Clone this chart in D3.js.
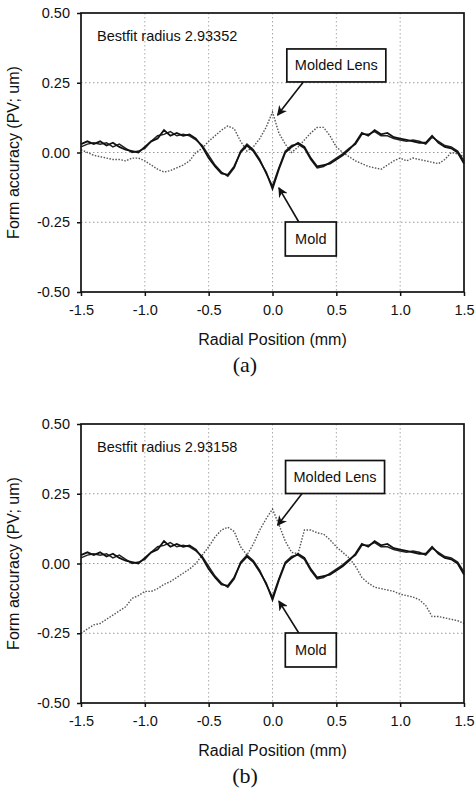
<!DOCTYPE html>
<html>
<head>
<meta charset="utf-8">
<script src="https://cdn.jsdelivr.net/npm/d3@7/dist/d3.min.js"></script>
<style>
  body { margin: 0; background: #fff; }
  svg text { font-family: Arial, "Liberation Sans", sans-serif; fill: #111; }
  .caption { font-family: "Times New Roman", "Liberation Serif", serif; }
</style>
</head>
<body>
<div id="root"></div>
<script>
"use strict";

// radial positions, 0.05 mm step
var positions = d3.range(61).map(function (i) { return -1.5 + i * 0.05; });

var xTicks = [-1.5, -1.0, -0.5, 0.0, 0.5, 1.0, 1.5];
var yTicks = [-0.50, -0.25, 0.00, 0.25, 0.50];

var moldA = [0.03, 0.04, 0.03, 0.04, 0.025, 0.035, 0.02, 0.01, 0.005, 0.0,
    0.02, 0.04, 0.05, 0.08, 0.06, 0.07, 0.06, 0.065, 0.05, 0.02,
    -0.02, -0.05, -0.075, -0.08, -0.05, 0.0, 0.025, 0.005, -0.03, -0.07,
    -0.13, -0.06, 0.0, 0.02, 0.035, 0.02, -0.02, -0.05, -0.045, -0.04,
    -0.025, -0.01, 0.01, 0.035, 0.07, 0.06, 0.08, 0.065, 0.07, 0.055,
    0.05, 0.045, 0.04, 0.035, 0.035, 0.06, 0.035, 0.02, 0.015, 0.0, -0.04];

var moldB = [0.02, 0.03, 0.035, 0.03, 0.035, 0.02, 0.03, 0.015, 0.0, 0.005,
    0.015, 0.04, 0.06, 0.065, 0.075, 0.06, 0.065, 0.06, 0.045, 0.025,
    -0.01, -0.045, -0.07, -0.085, -0.055, 0.005, 0.03, 0.01, -0.025, -0.075,
    -0.12, -0.055, 0.005, 0.025, 0.03, 0.015, -0.025, -0.055, -0.05, -0.035,
    -0.02, -0.005, 0.015, 0.03, 0.065, 0.065, 0.075, 0.06, 0.06, 0.05,
    0.045, 0.04, 0.045, 0.04, 0.03, 0.055, 0.04, 0.025, 0.02, 0.005, -0.03];

var lensA = [0.01, 0.0, -0.01, -0.015, -0.02, -0.025, -0.025, -0.03, -0.02, -0.02,
    -0.03, -0.045, -0.06, -0.07, -0.065, -0.055, -0.045, -0.03, 0.0, 0.015,
    0.04, 0.06, 0.08, 0.095, 0.085, 0.04, 0.005, 0.02, 0.05, 0.09,
    0.145, 0.07, 0.03, 0.0, 0.02, 0.045, 0.07, 0.09, 0.09, 0.06,
    0.02, 0.0, -0.015, -0.03, -0.04, -0.05, -0.055, -0.06, -0.045, -0.03,
    -0.02, -0.03, -0.02, -0.025, -0.03, -0.035, -0.04, -0.025, 0.0, -0.005, -0.015];

var lensB = [-0.25, -0.235, -0.22, -0.215, -0.2, -0.185, -0.17, -0.155, -0.125, -0.115,
    -0.1, -0.1, -0.09, -0.075, -0.065, -0.05, -0.035, -0.02, 0.0, 0.03,
    0.06, 0.095, 0.12, 0.13, 0.115, 0.06, 0.03, 0.07, 0.12, 0.16,
    0.195, 0.14, 0.08, 0.04, 0.035, 0.12, 0.12, 0.11, 0.105, 0.085,
    0.06, 0.04, 0.02, -0.01, -0.05, -0.07, -0.085, -0.09, -0.095, -0.1,
    -0.11, -0.115, -0.12, -0.13, -0.15, -0.19, -0.19, -0.195, -0.2, -0.205, -0.215];

var panels = [
    { top: 13, caption: "(a)", note: "Bestfit radius 2.93352", lens: lensA, lensTip: [0.04, 0.134], moldTip: [0.05, -0.127], lensBox: [0.50, 0.312], moldBox: [0.30, -0.31] },
    { top: 424, caption: "(b)", note: "Bestfit radius 2.93158", lens: lensB, lensTip: [0.04, 0.137], moldTip: [0.05, -0.135], lensBox: [0.49, 0.31], moldBox: [0.30, -0.31] }
];

var svg = d3.select("#root").append("svg")
    .attr("width", 475)
    .attr("height", 793);

svg.append("defs").append("marker")
    .attr("id", "head")
    .attr("viewBox", "0 0 10 10")
    .attr("refX", 9).attr("refY", 5)
    .attr("markerWidth", 10).attr("markerHeight", 10)
    .attr("markerUnits", "userSpaceOnUse")
    .attr("orient", "auto")
    .append("path")
    .attr("d", "M0,0 L10,5 L0,10 L3,5 Z")
    .attr("fill", "#111");

// plain hyphen for negatives, as in the original
function fmt(spec) {
    var f = d3.format(spec);
    return function (d) { return f(d).replace("\u2212", "-"); };
}

function drawPanel(p) {
    var left = 81, right = 464, top = p.top, bottom = p.top + 279;

    var x = d3.scaleLinear().domain([-1.5, 1.5]).range([left, right]);
    var y = d3.scaleLinear().domain([-0.5, 0.5]).range([bottom, top]);

    var g = svg.append("g").classed("panel", true);

    // dotted grid
    g.append("g").selectAll("line.hg")
        .data(yTicks.slice(1, -1))
        .enter().append("line")
        .attr("x1", left).attr("x2", right)
        .attr("y1", d => y(d)).attr("y2", d => y(d))
        .attr("stroke", "#999").attr("stroke-width", 1)
        .attr("stroke-dasharray", "1.5,2.5");
    g.append("g").selectAll("line.vg")
        .data(xTicks.slice(1, -1))
        .enter().append("line")
        .attr("y1", top).attr("y2", bottom)
        .attr("x1", d => x(d)).attr("x2", d => x(d))
        .attr("stroke", "#aaa").attr("stroke-width", 1)
        .attr("stroke-dasharray", "1.5,2.5");

    var line = d3.line()
        .x((d, i) => x(positions[i]))
        .y(d => y(d));

    g.append("path").datum(p.lens)
        .attr("d", line).attr("fill", "none")
        .attr("stroke", "#555").attr("stroke-width", 1.4)
        .attr("stroke-dasharray", "1.5,1.5");
    g.append("path").datum(moldB)
        .attr("d", line).attr("fill", "none")
        .attr("stroke", "#222").attr("stroke-width", 1.5);
    g.append("path").datum(moldA)
        .attr("d", line).attr("fill", "none")
        .attr("stroke", "#111").attr("stroke-width", 1.8);

    // frame
    g.append("rect")
        .attr("x", left).attr("y", top)
        .attr("width", right - left).attr("height", bottom - top)
        .attr("fill", "none").attr("stroke", "#111").attr("stroke-width", 1.7);

    var xAxis = g.append("g")
        .attr("transform", "translate(0," + bottom + ")")
        .call(d3.axisBottom(x).tickValues(xTicks).tickFormat(fmt(".1f")).tickSize(4).tickPadding(9));
    var yAxis = g.append("g")
        .attr("transform", "translate(" + left + ",0)")
        .call(d3.axisLeft(y).tickValues(yTicks).tickFormat(fmt(".2f")).tickSize(4).tickPadding(7));
    [xAxis, yAxis].forEach(function (a) {
        a.select(".domain").remove();
        a.selectAll("line").attr("stroke", "#111").attr("stroke-width", 1.5);
        a.selectAll("text").style("font-size", "14.5px").attr("fill", "#111");
    });

    g.append("text")
        .attr("x", (left + right) / 2).attr("y", bottom + 53)
        .attr("text-anchor", "middle").style("font-size", "16px")
        .text("Radial Position (mm)");
    g.append("text")
        .attr("transform", "translate(19," + (top + bottom) / 2 + ") rotate(-90)")
        .attr("text-anchor", "middle").style("font-size", "16px")
        .text("Form accuracy (PV; um)");
    g.append("text")
        .attr("x", 97).attr("y", top + 28)
        .style("font-size", "14.5px")
        .text(p.note);
    g.append("text").classed("caption", true)
        .attr("x", 245).attr("y", bottom + 80)
        .attr("text-anchor", "middle").style("font-size", "22px")
        .text(p.caption);

    // callouts
    [
        { label: "Molded Lens", box: p.lensBox, tip: p.lensTip, w: 99, h: 33, from: "bottom" },
        { label: "Mold", box: p.moldBox, tip: p.moldTip, w: 51, h: 34, from: "top" }
    ].forEach(function (c) {
        var cx = x(c.box[0]), cy = y(c.box[1]);
        var sx = c.from === "bottom" ? cx - 33 : cx - 12;
        var sy = c.from === "bottom" ? cy + c.h / 2 : cy - c.h / 2;
        g.append("line")
            .attr("x1", sx).attr("y1", sy)
            .attr("x2", x(c.tip[0])).attr("y2", y(c.tip[1]))
            .attr("stroke", "#111").attr("stroke-width", 1.6)
            .attr("marker-end", "url(#head)");
        g.append("rect")
            .attr("x", cx - c.w / 2).attr("y", cy - c.h / 2)
            .attr("width", c.w).attr("height", c.h)
            .attr("fill", "#fff").attr("stroke", "#111").attr("stroke-width", 1.7);
        g.append("text")
            .attr("x", cx).attr("y", cy + 5)
            .attr("text-anchor", "middle").style("font-size", "14.5px")
            .text(c.label);
    });
}

panels.forEach(drawPanel);
</script>
</body>
</html>
